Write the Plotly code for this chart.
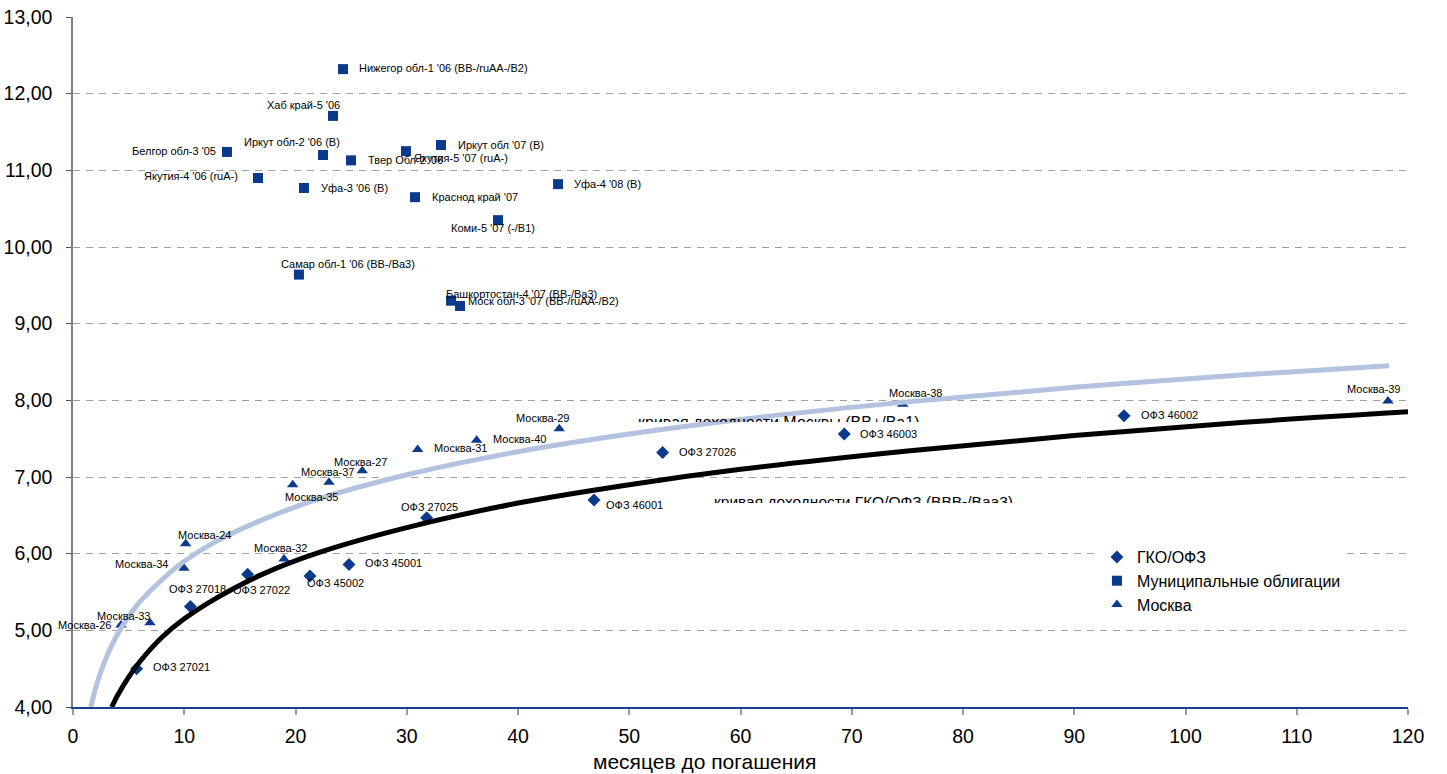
import plotly.graph_objects as go

# ---------------- data ----------------
ofz_names = ["ОФЗ 27021", "ОФЗ 27018", "ОФЗ 27022", "ОФЗ 45002", "ОФЗ 45001",
             "ОФЗ 27025", "ОФЗ 46001", "ОФЗ 27026", "ОФЗ 46003", "ОФЗ 46002"]
ofz_x = [5.72, 10.55, 15.70, 21.30, 24.81, 31.79, 46.83, 53.00, 69.33, 94.47]
ofz_y = [4.50, 5.31, 5.73, 5.71, 5.86, 6.47, 6.70, 7.32, 7.56, 7.80]

mun_names = ["Нижегор обл-1 '06 (BB-/ruAA-/B2)", "Хаб край-5 '06", "Белгор обл-3 '05",
             "Иркут обл-2 '06 (B)", "Твер Обл-2 '06", "Якутия-5 '07 (ruA-)",
             "Иркут обл '07 (B)", "Якутия-4 '06 (ruA-)", "Уфа-3 '06 (B)",
             "Краснод край '07", "Уфа-4 '08 (B)", "Коми-5 '07 (-/B1)",
             "Самар обл-1 '06 (BB-/Ba3)", "Башкортостан-4 '07 (BB-/Ba3)",
             "Моск обл-3 '07 (BB-/ruAA-/B2)"]
mun_x = [24.27, 23.37, 13.84, 22.47, 24.99, 29.93, 33.08, 16.63, 20.76,
         30.74, 43.60, 38.20, 20.31, 33.98, 34.79]
mun_y = [12.32, 11.71, 11.24, 11.20, 11.13, 11.25, 11.33, 10.90, 10.77,
         10.65, 10.82, 10.35, 9.64, 9.30, 9.23]

msk_names = ["Москва-26", "Москва-33", "Москва-34", "Москва-24", "Москва-32",
             "Москва-35", "Москва-37", "Москва-27", "Москва-31", "Москва-40",
             "Москва-29", "Москва-38", "Москва-39"]
msk_x = [4.31, 6.92, 9.98, 10.13, 18.97, 19.75, 23.01, 26.00, 30.98, 36.28,
         43.71, 74.58, 118.2]
msk_y = [5.07, 5.10, 5.81, 6.13, 5.93, 6.90, 6.93, 7.08, 7.36, 7.48,
         7.63, 7.95, 7.99]

# yield curves
msk_curve_x = [1.6, 2, 2.5, 3, 4, 5, 6, 8, 10, 13, 17, 22, 30, 40, 50, 60, 75, 90, 105, 118.3]
msk_curve_y = [4.00, 4.23, 4.46, 4.65, 4.95, 5.18, 5.37, 5.66, 5.90, 6.17, 6.44, 6.71,
               7.03, 7.33, 7.56, 7.75, 7.98, 8.17, 8.33, 8.45]
ofz_curve_x = [3.48, 4, 5, 6, 8, 10, 13, 17, 22, 30, 40, 50, 60, 75, 90, 105, 120]
ofz_curve_y = [4.00, 4.15, 4.39, 4.59, 4.91, 5.15, 5.43, 5.73, 6.01, 6.34, 6.66,
               6.90, 7.10, 7.34, 7.54, 7.71, 7.85]

y_ticks = [4, 5, 6, 7, 8, 9, 10, 11, 12, 13]
y_tick_labels = ["4,00", "5,00", "6,00", "7,00", "8,00", "9,00", "10,00", "11,00", "12,00", "13,00"]
x_ticks = [0, 10, 20, 30, 40, 50, 60, 70, 80, 90, 100, 110, 120]

series_names = ["ГКО/ОФЗ", "Муниципальные облигации", "Москва"]
msk_curve_label = "кривая доходности Москвы (BB+/Ba1)"
ofz_curve_label = "кривая доходности ГКО/ОФЗ (BBB-/Baa3)"
x_title = "месяцев до погашения"

# ---------------- label placement (style) ----------------
ofz_lab = [("left", 14, 2), ("center", 7, 18), ("center", 14, -16), ("center", 26, -7),
           ("left", 14, 1), ("center", 3, 11), ("left", 10, -5), ("left", 14, 0),
           ("left", 14, 0), ("left", 15, 1)]
mun_lab = [("left", 14, 1), ("right", 9, 11), ("right", -9, 1), ("right", 19, 13),
           ("left", 15, 0), ("left", 6, -7), ("left", 15, 0), ("right", -18, 2),
           ("left", 15, 0), ("left", 15, 0), ("left", 14, 0), ("center", -5, -8),
           ("center", 49, 11), ("left", -7, 7), ("left", 6, 5)]
msk_lab = [("right", -8, 0), ("center", -26, 7), ("right", -14, 4), ("center", 19, 9),
           ("center", -4, 11), ("center", 19, -12), ("center", -1, 10), ("center", -2, 9),
           ("left", 14, 1), ("left", 14, 1), ("center", -17, 11), ("center", 13, 11),
           ("center", -14, 12)]

FONT = "Liberation Sans, Arial, sans-serif"
NAVY = "#0b3a8c"

fig = go.Figure()
fig.add_trace(go.Scatter(x=ofz_x, y=ofz_y, mode="markers", name=series_names[0],
                         marker=dict(symbol="diamond", size=10, color=NAVY)))
fig.add_trace(go.Scatter(x=mun_x, y=mun_y, mode="markers", name=series_names[1],
                         marker=dict(symbol="square", size=10, color=NAVY)))
fig.add_trace(go.Scatter(x=msk_x, y=msk_y, mode="markers", name=series_names[2],
                         marker=dict(symbol="triangle-up", size=10, color=NAVY)))
fig.add_trace(go.Scatter(x=msk_curve_x, y=msk_curve_y, mode="lines", showlegend=False,
                         line=dict(color="#b2c2df", width=5, shape="spline"), hoverinfo="skip"))
fig.add_trace(go.Scatter(x=ofz_curve_x, y=ofz_curve_y, mode="lines", showlegend=False,
                         line=dict(color="black", width=5, shape="spline"), hoverinfo="skip"))

annotations = []
for names, xs, ys, labs in [(ofz_names, ofz_x, ofz_y, ofz_lab),
                            (mun_names, mun_x, mun_y, mun_lab),
                            (msk_names, msk_x, msk_y, msk_lab)]:
    for n, xv, yv, (anc, dx, dy) in zip(names, xs, ys, labs):
        annotations.append(dict(x=xv, y=yv, xref="x", yref="y", text=n, showarrow=False,
                                xanchor=anc, yanchor="middle", xshift=dx, yshift=dy,
                                font=dict(family=FONT, size=11, color="black")))

# clipped curve captions
annotations.append(dict(x=63.4, y=7.85, xref="x", yref="y", text=msk_curve_label,
                        showarrow=False, xanchor="center", yanchor="top", height=8, valign="top",
                        font=dict(family=FONT, size=16, color="black")))
annotations.append(dict(x=71.1, y=6.82, xref="x", yref="y", text=ofz_curve_label,
                        showarrow=False, xanchor="center", yanchor="top", height=10, valign="top",
                        font=dict(family=FONT, size=15.5, color="black")))
annotations.append(dict(x=0.4727, y=-0.0797, xref="paper", yref="paper", text=x_title,
                        showarrow=False, xanchor="center", yanchor="middle",
                        font=dict(family=FONT, size=21, color="black")))

fig.update_layout(
    width=1447, height=774,
    margin=dict(l=73, r=39, t=17, b=67, autoexpand=False),
    paper_bgcolor="white", plot_bgcolor="white",
    font=dict(family=FONT, color="black"),
    annotations=annotations,
    legend=dict(x=0.767, y=0.242, xanchor="left", yanchor="top", bgcolor="white",
                font=dict(family=FONT, size=16, color="black"), tracegroupgap=0,
                entrywidth=265, entrywidthmode="pixels"),
    xaxis=dict(range=[0, 120], tickvals=x_ticks, showgrid=False, zeroline=False,
               showline=True, linecolor="#1a3f8f", linewidth=1.5, automargin=False,
               ticks="outside", ticklen=6, tickcolor="#7f9fd0", tickwidth=1.5,
               tickfont=dict(family=FONT, size=19.5, color="black"), ticklabelstandoff=5),
    yaxis=dict(range=[4, 13], tickvals=y_ticks, ticktext=y_tick_labels, showgrid=True,
               gridcolor="#a0a0a0", griddash="7px,6px", gridwidth=1, zeroline=False,
               showline=True, linecolor="#808080", linewidth=1.5, automargin=False,
               ticks="outside", ticklen=5, tickcolor="#555555",
               tickfont=dict(family=FONT, size=19.5, color="black"), ticklabelstandoff=10),
    showlegend=True,
)

fig.write_html("out.html", config={"displayModeBar": False},
               post_script="document.body.style.margin='0';")
